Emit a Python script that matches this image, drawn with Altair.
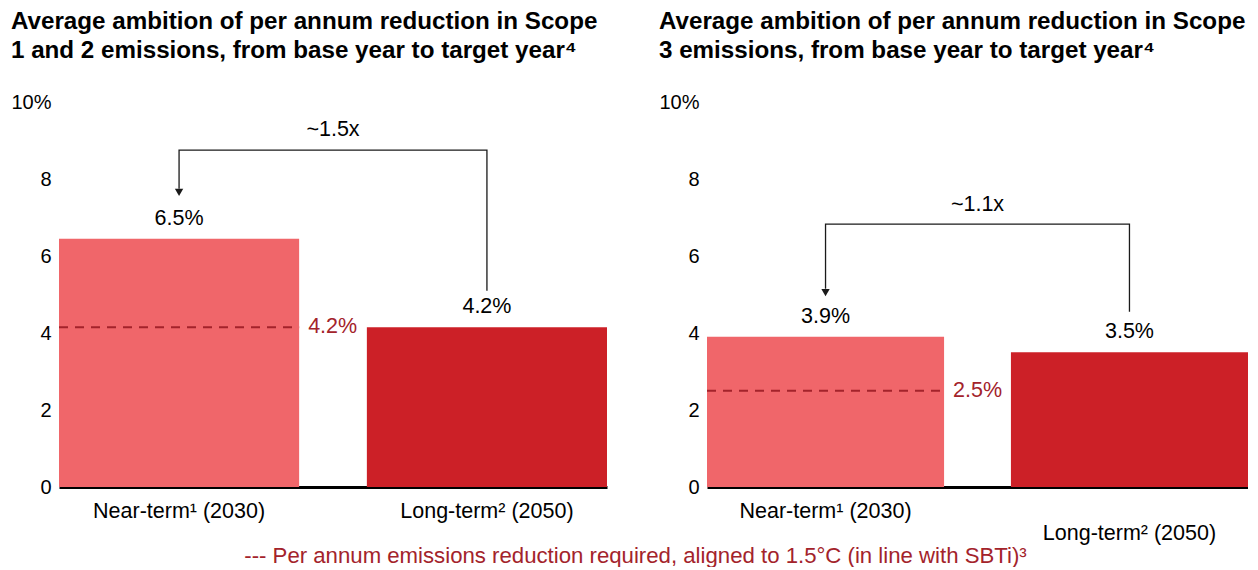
import altair as alt
import pandas as pd

FONT = "Liberation Sans"
LIGHT = "#F0666A"
DARK = "#CC2027"
RED = "#A3232B"
INK = "#1a1a1a"

categories = ["Near-term¹ (2030)", "Long-term² (2050)"]
y_ticks = [0, 2, 4, 6, 8, 10]

scope12_title = ["Average ambition of per annum reduction in Scope",
                 "1 and 2 emissions, from base year to target year⁴"]
scope12_values = [6.45, 4.15]
scope12_labels = ["6.5%", "4.2%"]
scope12_required = [4.15]
scope12_required_label = ["4.2%"]
scope12_ratio = ["~1.5x"]
scope12_ratio_y = [9.27]
scope12_arrow_y = [5.1, 8.75, 8.75, 7.75]
scope12_arrow_tip = [7.65]

scope3_title = ["Average ambition of per annum reduction in Scope",
                "3 emissions, from base year to target year⁴"]
scope3_values = [3.9, 3.5]
scope3_labels = ["3.9%", "3.5%"]
scope3_required = [2.5]
scope3_required_label = ["2.5%"]
scope3_ratio = ["~1.1x"]
scope3_ratio_y = [7.32]
scope3_arrow_y = [4.55, 6.83, 6.83, 5.15]
scope3_arrow_tip = [5.05]

arrow_cats = [categories[1], categories[1], categories[0], categories[0]]
arrow_steps = [0, 1, 2, 3]

footer = "--- Per annum emissions reduction required, aligned to 1.5°C (in line with SBTi)³"

TXT = 21.5


def panel(title_lines, values, labels, required, required_label, ratio, ratio_y,
          arrow_y, arrow_tip, width, lower_long_label):
    bars_df = pd.DataFrame({"cat": categories, "value": values, "label": labels,
                            "color": [LIGHT, DARK]})
    req_df = pd.DataFrame({"cat": [categories[0]], "value": required, "label": required_label})
    arrow_df = pd.DataFrame({"cat": arrow_cats, "value": arrow_y, "step": arrow_steps})
    tip_df = pd.DataFrame({"cat": [categories[0]], "value": arrow_tip})
    ratio_df = pd.DataFrame({"value": ratio_y, "label": ratio})

    label_expr = "datum.value"
    if lower_long_label:
        label_expr = f"datum.value == '{categories[1]}' ? ['', datum.value] : datum.value"

    x_axis = alt.Axis(title=None, labelAngle=0, ticks=False, domainColor="black",
                      domainWidth=3, labelFontSize=TXT, labelColor="black", labelFont=FONT,
                      labelPadding=13, labelExpr=label_expr, labelLineHeight=22)
    x = alt.X("cat:N", sort=categories,
              scale=alt.Scale(paddingInner=0.22, paddingOuter=0), axis=x_axis)
    y_axis = alt.Axis(title=None, values=y_ticks, domain=False, ticks=False, grid=False,
                      labelFontSize=20, labelColor="black", labelFont=FONT, labelPadding=8,
                      labelExpr="datum.value == 10 ? '10%' : datum.label")
    y = alt.Y("value:Q", scale=alt.Scale(domain=[0, 10], nice=False), axis=y_axis)

    xs = alt.X("cat:N", sort=categories)

    bars = alt.Chart(bars_df).mark_bar().encode(
        x=x, y=y, color=alt.Color("color:N", scale=None))
    bar_text = alt.Chart(bars_df).mark_text(
        dy=-20, fontSize=TXT, font=FONT, color="black", baseline="middle").encode(
        x=xs, y="value:Q", text="label:N")
    rule = alt.Chart(req_df).mark_rule(strokeDash=[9, 7], strokeWidth=2, color=RED).encode(
        x=alt.X("cat:N", sort=categories, bandPosition=0),
        x2=alt.X2("cat", bandPosition=1), y="value:Q")
    rule_text = alt.Chart(req_df).mark_text(
        align="left", dx=9, fontSize=TXT, font=FONT, color=RED, baseline="middle").encode(
        x=alt.X("cat:N", sort=categories, bandPosition=1), y="value:Q", text="label:N")
    arrow = alt.Chart(arrow_df).mark_line(color=INK, strokeWidth=1.3).encode(
        x=xs, y="value:Q", order="step:O")
    tip = alt.Chart(tip_df).mark_point(shape="triangle-down", filled=True, size=70,
                                       color=INK, opacity=1).encode(x=xs, y="value:Q")
    ratio_text = alt.Chart(ratio_df).mark_text(
        fontSize=TXT, font=FONT, color="black", baseline="middle").encode(
        x=alt.value(width / 2), y="value:Q", text="label:N")

    return alt.layer(bars, rule, rule_text, bar_text, arrow, tip, ratio_text).properties(
        width=width, height=385,
        title=alt.Title(title_lines, anchor="start", frame="bounds", fontSize=24.2,
                        fontWeight="bold", font=FONT, color="black", lineHeight=29,
                        offset=29))


left = panel(scope12_title, scope12_values, scope12_labels, scope12_required,
             scope12_required_label, scope12_ratio, scope12_ratio_y, scope12_arrow_y,
             scope12_arrow_tip, 548, False)
right = panel(scope3_title, scope3_values, scope3_labels, scope3_required,
              scope3_required_label, scope3_ratio, scope3_ratio_y, scope3_arrow_y,
              scope3_arrow_tip, 541, True)

chart = alt.hconcat(left, right, spacing=51).properties(
    padding={"left": 2, "top": 1, "right": 0, "bottom": 0},
    title=alt.Title(footer, orient="bottom", anchor="middle", color=RED, fontSize=22.2,
                    fontWeight="normal", font=FONT, offset=1, dx=6),
).configure_view(stroke=None)

chart.save("out.html", embed_options={"renderer": "svg", "actions": False})
